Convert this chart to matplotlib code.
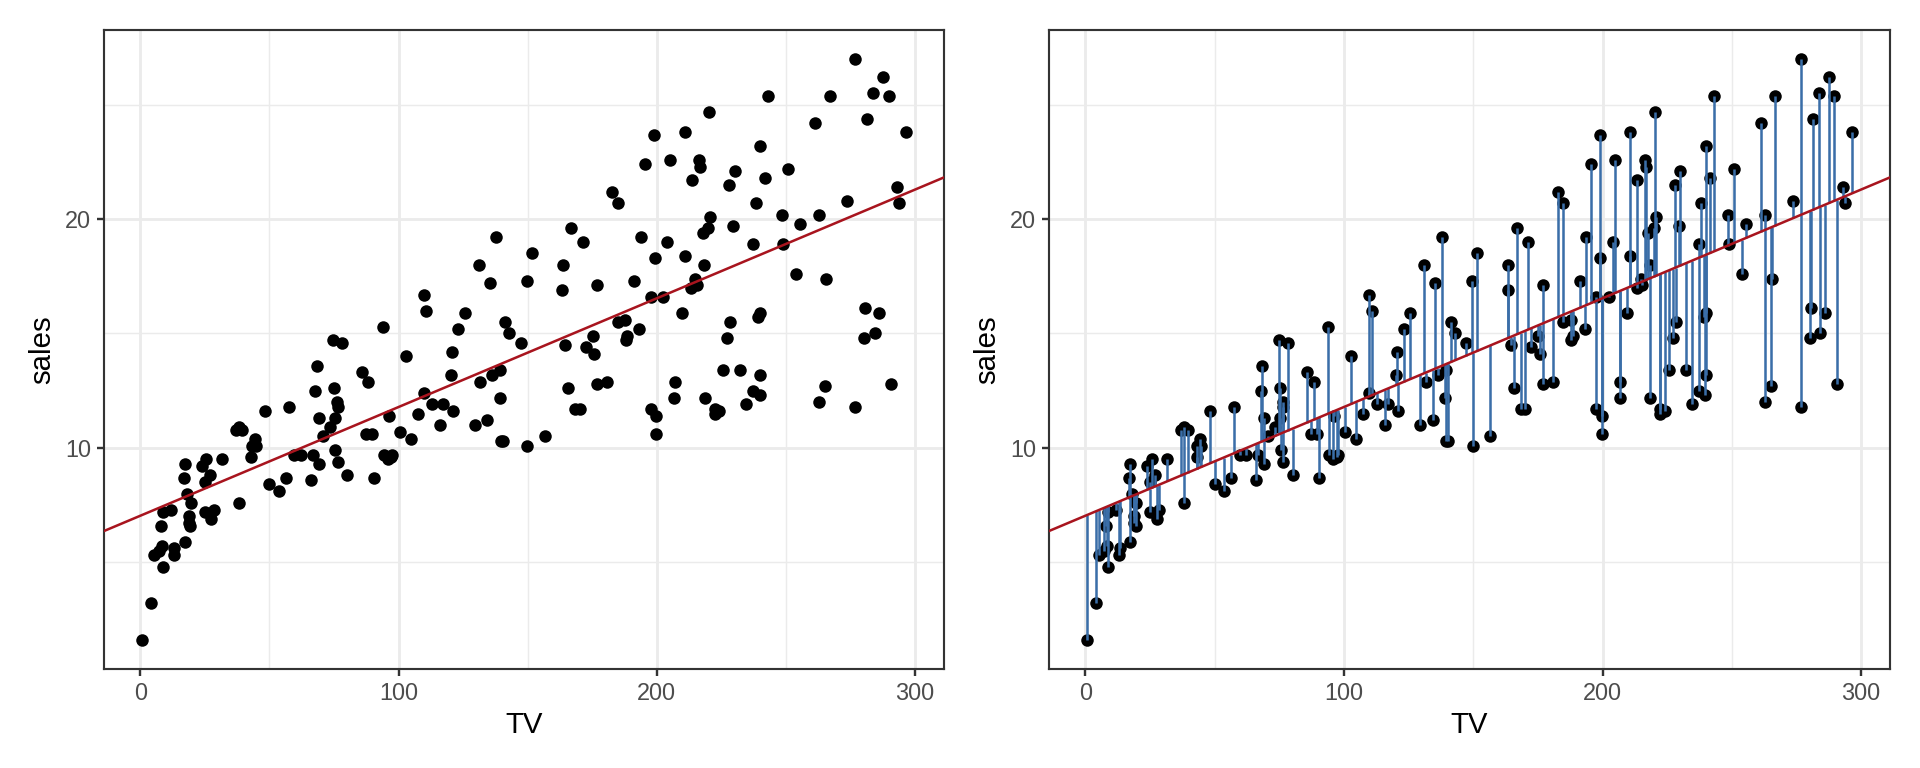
import numpy as np
import matplotlib
matplotlib.use("Agg")
import matplotlib.pyplot as plt
from matplotlib.ticker import MultipleLocator

plt.rcParams['font.family'] = ['Liberation Sans', 'DejaVu Sans']

tv = [230.1, 44.5, 17.2, 151.5, 180.8, 8.7, 57.5, 120.2, 8.6, 199.8,
      66.1, 214.7, 23.8, 97.5, 204.1, 195.4, 67.8, 281.4, 69.2, 147.3,
      218.4, 237.4, 13.2, 228.3, 62.3, 262.9, 142.9, 240.1, 248.8, 70.6,
      292.9, 112.9, 97.2, 265.6, 95.7, 290.7, 266.9, 74.7, 43.1, 228.0,
      202.5, 177.0, 293.6, 206.9, 25.1, 175.1, 89.7, 239.9, 227.2, 66.9,
      199.8, 100.4, 216.4, 182.6, 262.7, 198.9, 7.3, 136.2, 210.8, 210.7,
      53.5, 261.3, 239.3, 102.7, 131.1, 69.0, 31.5, 139.3, 237.4, 216.8,
      199.1, 109.8, 26.8, 129.4, 213.4, 16.9, 27.5, 120.5, 5.4, 116.0,
      76.4, 239.8, 75.3, 68.4, 213.5, 193.2, 76.3, 110.7, 88.3, 109.8,
      134.3, 28.6, 217.7, 250.9, 107.4, 163.3, 197.6, 184.9, 289.7, 135.2,
      222.4, 296.4, 280.2, 187.9, 238.2, 137.9, 25.0, 90.4, 13.1, 255.4,
      225.8, 241.7, 175.7, 209.6, 78.2, 75.1, 139.2, 76.4, 125.7, 19.4,
      141.3, 18.8, 224.0, 123.1, 229.5, 87.2, 7.8, 80.2, 220.3, 59.6,
      0.7, 265.2, 8.4, 219.8, 36.9, 48.3, 25.6, 273.7, 43.0, 184.9,
      73.4, 193.7, 220.5, 104.6, 96.2, 140.3, 240.1, 243.2, 38.0, 44.7,
      280.7, 121.0, 197.6, 171.3, 187.8, 4.1, 93.9, 149.8, 11.7, 131.7,
      172.5, 85.7, 188.4, 163.5, 117.2, 234.5, 17.9, 206.8, 215.4, 284.3,
      50.0, 164.5, 19.6, 168.4, 222.4, 276.9, 248.4, 170.2, 276.7, 165.6,
      156.6, 218.5, 56.2, 287.6, 253.8, 205.0, 139.5, 191.1, 286.0, 18.7,
      39.5, 75.5, 17.2, 166.8, 149.7, 38.2, 94.2, 177.0, 283.6, 232.1]

sales = [22.1, 10.4, 9.3, 18.5, 12.9, 7.2, 11.8, 13.2, 4.8, 10.6,
         8.6, 17.4, 9.2, 9.7, 19.0, 22.4, 12.5, 24.4, 11.3, 14.6,
         18.0, 12.5, 5.6, 15.5, 9.7, 12.0, 15.0, 15.9, 18.9, 10.5,
         21.4, 11.9, 9.6, 17.4, 9.5, 12.8, 25.4, 14.7, 10.1, 21.5,
         16.6, 17.1, 20.7, 12.9, 8.5, 14.9, 10.6, 23.2, 14.8, 9.7,
         11.4, 10.7, 22.6, 21.2, 20.2, 23.7, 5.5, 13.2, 23.8, 18.4,
         8.1, 24.2, 15.7, 14.0, 18.0, 9.3, 9.5, 13.4, 18.9, 22.3,
         18.3, 12.4, 8.8, 11.0, 17.0, 8.7, 6.9, 14.2, 5.3, 11.0,
         11.8, 12.3, 11.3, 13.6, 21.7, 15.2, 12.0, 16.0, 12.9, 16.7,
         11.2, 7.3, 19.4, 22.2, 11.5, 16.9, 11.7, 15.5, 25.4, 17.2,
         11.7, 23.8, 14.8, 14.7, 20.7, 19.2, 7.2, 8.7, 5.3, 19.8,
         13.4, 21.8, 14.1, 15.9, 14.6, 12.6, 12.2, 9.4, 15.9, 6.6,
         15.5, 7.0, 11.6, 15.2, 19.7, 10.6, 6.6, 8.8, 24.7, 9.7,
         1.6, 12.7, 5.7, 19.6, 10.8, 11.6, 9.5, 20.8, 9.6, 20.7,
         10.9, 19.2, 20.1, 10.4, 11.4, 10.3, 13.2, 25.4, 10.9, 10.1,
         16.1, 11.6, 16.6, 19.0, 15.6, 3.2, 15.3, 10.1, 7.3, 12.9,
         14.4, 13.3, 14.9, 18.0, 11.9, 11.9, 8.0, 12.2, 17.1, 15.0,
         8.4, 14.5, 7.6, 11.7, 11.5, 27.0, 20.2, 11.7, 11.8, 12.6,
         10.5, 12.2, 8.7, 26.2, 17.6, 22.6, 10.3, 17.3, 15.9, 6.7,
         10.8, 9.9, 5.9, 19.6, 17.3, 7.6, 9.7, 12.8, 25.5, 13.4]

x_label = "TV"
y_label = "sales"
x_ticks = [0, 100, 200, 300]
y_ticks = [10, 20]

tv_a = np.array(tv)
sales_a = np.array(sales)
slope, intercept = np.polyfit(tv_a, sales_a, 1)
fitted = intercept + slope * tv_a

fig = plt.figure(figsize=(10, 4), dpi=192)
ax1 = fig.add_axes([104/1920, 99/768, 840/1920, 639/768])
ax2 = fig.add_axes([1049/1920, 99/768, 841/1920, 639/768])

xr = tv_a.max() - tv_a.min()
yr = sales_a.max() - sales_a.min()
xlim = (tv_a.min() - 0.05*xr, tv_a.max() + 0.05*xr)
ylim = (sales_a.min() - 0.05*yr, sales_a.max() + 0.05*yr)

line_col = "#A8141E"
seg_col = "#3A6EA8"

for i, ax in enumerate([ax1, ax2]):
    ax.set_xlim(*xlim)
    ax.set_ylim(*ylim)
    ax.set_xticks(x_ticks)
    ax.set_yticks(y_ticks)
    ax.xaxis.set_minor_locator(MultipleLocator(50))
    ax.yaxis.set_minor_locator(MultipleLocator(5))
    ax.grid(which='major', color='#EBEBEB', linewidth=1.07, zorder=0)
    ax.grid(which='minor', color='#EBEBEB', linewidth=0.53, zorder=0)
    ax.set_axisbelow(True)
    ax.tick_params(which='minor', length=0)
    ax.tick_params(which='major', length=2.6, width=0.9, color='#333333',
                   labelsize=8.8, labelcolor='#4D4D4D', pad=2.2)
    for sp in ax.spines.values():
        sp.set_color('#333333')
        sp.set_linewidth(0.8)
    ax.set_xlabel(x_label, fontsize=11, labelpad=2.5)
    ax.set_ylabel(y_label, fontsize=11, labelpad=3.5)
    ax.scatter(tv_a, sales_a, s=22, color='black', linewidths=0, zorder=2)
    if i == 1:
        ax.vlines(tv_a, sales_a, fitted, color=seg_col, linewidth=0.95, zorder=3)
    ax.axline((0, intercept), slope=slope, color=line_col, linewidth=0.95, zorder=4)

fig.savefig("out.png", dpi=192)
